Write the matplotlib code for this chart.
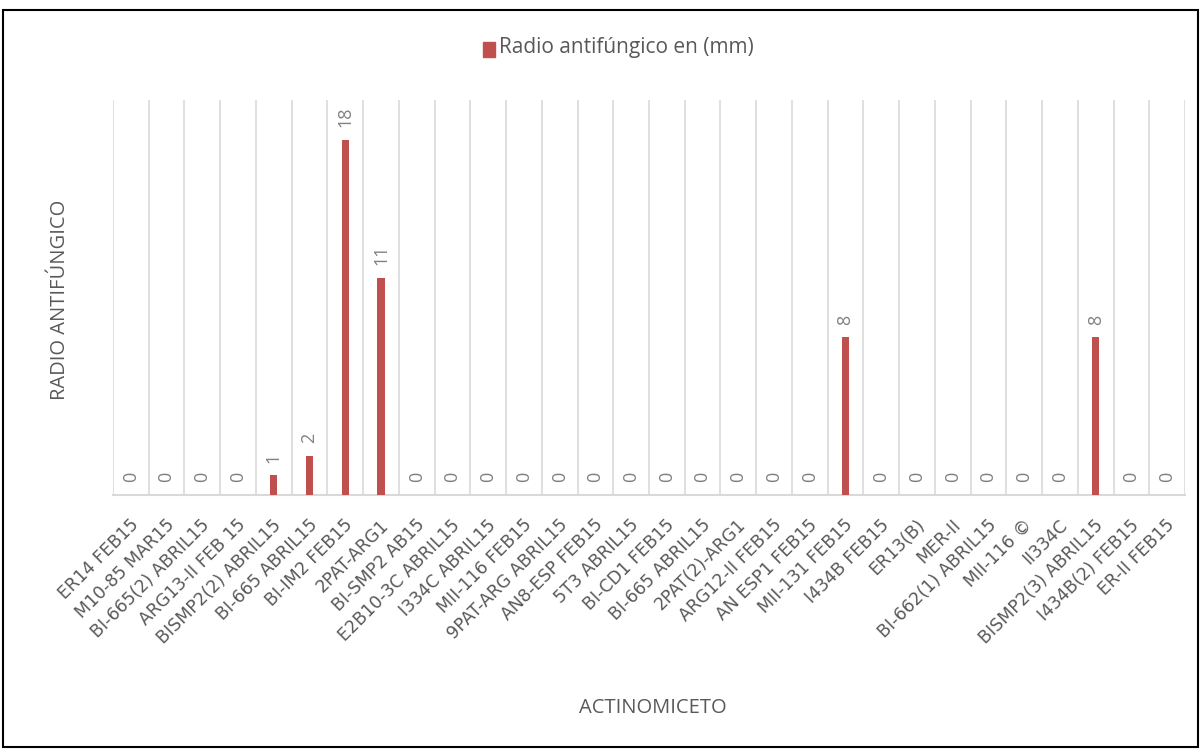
import matplotlib
matplotlib.use("Agg")
import matplotlib.pyplot as plt
import matplotlib.transforms as mtransforms
from matplotlib.patches import Rectangle
import numpy as np

categories = [
    "ER14 FEB15", "M10-85 MAR15", "BI-665(2) ABRIL15", "ARG13-II FEB 15",
    "BISMP2(2) ABRIL15", "BI-665 ABRIL15", "BI-IM2 FEB15", "2PAT-ARG1",
    "BI-SMP2 AB15", "E2B10-3C ABRIL15", "I334C ABRIL15", "MII-116 FEB15",
    "9PAT-ARG ABRIL15", "AN8-ESP FEB15", "5T3 ABRIL15", "BI-CD1 FEB15",
    "BI-665 ABRIL15", "2PAT(2)-ARG1", "ARG12-II FEB15", "AN ESP1 FEB15",
    "MII-131 FEB15", "I434B FEB15", "ER13(B)", "MER-II",
    "BI-662(1) ABRIL15", "MII-116 ©", "II334C", "BISMP2(3) ABRIL15",
    "I434B(2) FEB15", "ER-II FEB15",
]
radio_mm = [0, 0, 0, 0, 1, 2, 18, 11, 0, 0, 0, 0, 0, 0, 0, 0, 0, 0, 0, 0,
            8, 0, 0, 0, 0, 0, 0, 8, 0, 0]
series_name = "Radio antifúngico en (mm)"

plt.rcParams["font.family"] = ["Open Sans", "DejaVu Sans"]
text_gray = "#595959"
label_gray = "#808080"
bar_color = "#C0504D"
grid_color = "#D9D9D9"

fig = plt.figure(figsize=(12.02, 7.5), dpi=100)
W, H = 1202, 750
ax = fig.add_axes([113 / W, 1 - 495 / H, (1185 - 113) / W, (495 - 100) / H])

x = np.arange(len(categories))
ax.bar(x, radio_mm, width=0.2, color=bar_color, zorder=3)

ax.set_xlim(-0.5, len(categories) - 0.5)
ax.set_ylim(0, 20)

# vertical gridlines at category boundaries
for b in np.arange(-0.5, len(categories) + 0.5, 1):
    ax.axvline(b, color=grid_color, lw=1.2, zorder=1)

for s in ["top", "right", "left"]:
    ax.spines[s].set_visible(False)
ax.spines["bottom"].set_color(grid_color)
ax.spines["bottom"].set_linewidth(1.5)
ax.set_yticks([])
ax.tick_params(axis="x", length=0, pad=15)
ax.set_xticks(x)
ax.set_xticklabels(categories, rotation=45, ha="right", va="top",
                   rotation_mode="anchor", fontsize=12.5, color=text_gray)
shift = mtransforms.ScaledTranslation(-1 / 72, 0, fig.dpi_scale_trans)
for lbl in ax.get_xticklabels():
    lbl.set_fontfamily(["DejaVu Sans"])
    lbl.set_transform(lbl.get_transform() + shift)

for xi, v in zip(x, radio_mm):
    ax.annotate(str(v), (xi, v), xytext=(0, 9), textcoords="offset points",
                rotation=90, ha="center", va="bottom", fontsize=13,
                color=label_gray)

fig.text(60 / W, 1 - 300 / H, "RADIO ANTIFÚNGICO", rotation=90,
         ha="center", va="center", fontsize=14.5, color=text_gray)
fig.text(653 / W, 1 - 708 / H, "ACTINOMICETO", ha="center", va="center",
         fontsize=14.5, color=text_gray)

# legend
fig.patches.append(Rectangle((483 / W, 1 - 57 / H), 12 / W, 15 / H,
                             transform=fig.transFigure, color=bar_color))
fig.text(499 / W, 1 - 48 / H, series_name, ha="left", va="center",
         fontsize=15, color=text_gray)

# outer frame
fig.patches.append(Rectangle((3 / W, 3 / H), 1195 / W, 737 / H,
                             transform=fig.transFigure, fill=False,
                             edgecolor="black", lw=1.5))

fig.savefig("out.png", dpi=100)
